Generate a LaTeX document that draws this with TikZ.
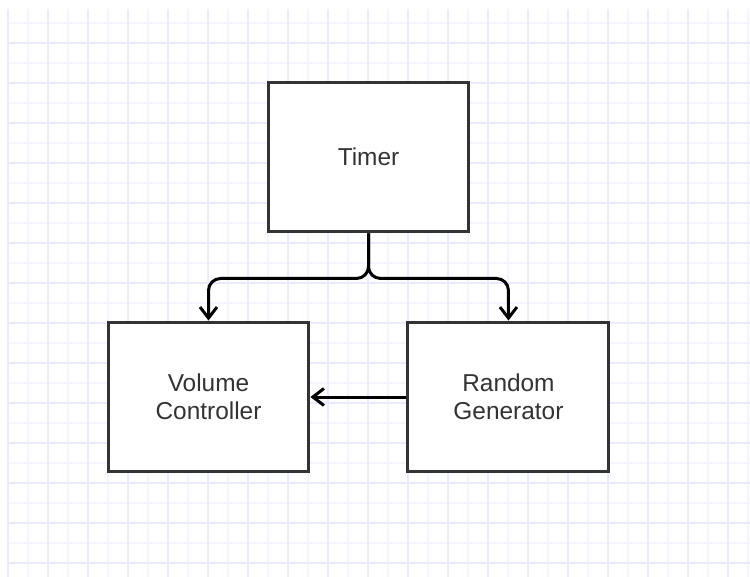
\documentclass[tikz,border=0pt]{standalone}
\usepackage{fontspec}
\setmainfont{Liberation Sans}
\usetikzlibrary{positioning,arrows.meta}
\definecolor{gridlight}{RGB}{245,245,255}
\definecolor{griddark}{RGB}{234,234,255}
\definecolor{boxline}{RGB}{51,51,51}
\tikzset{
  block/.style={draw=boxline, fill=white, line width=0.06cm,
    minimum width=4.02cm, minimum height=3cm, inner sep=0pt,
    align=center, text=black!80,
    font=\fontsize{13.9}{15.9}\selectfont},
  link/.style={draw=black, line width=0.06cm, rounded corners=0.24cm,
    -{Straight Barb[length=0.22cm,width=0.34cm]}},
  gridminor/.style={draw=gridlight, line width=0.03cm},
  gridmajor/.style={draw=griddark, line width=0.03cm}
}

\begin{document}
\begin{tikzpicture}[x=0.02cm,y=-0.02cm, node distance=1.8cm and 1.92cm]
    \useasboundingbox (0,0) rectangle (750,577);
    \fill[white] (0,0) rectangle (750,577);

    % grid
    \foreach \x in {28,68,...,748} \draw[gridminor] (\x,9) -- (\x,577);
    \foreach \y in {23,63,...,563} \draw[gridminor] (8,\y) -- (750,\y);
    \foreach \x in {8,48,...,728} \draw[gridmajor] (\x,9) -- (\x,577);
    \foreach \y in {43,83,...,563} \draw[gridmajor] (8,\y) -- (750,\y);

    \node[block] (vol) at (208.5,397) {Volume\\Controller};
    \node[block, right=of vol] (rand) {Random\\Generator};
    \node[block] (timer) at (368.5,157) {Timer};

    \coordinate[below=0.9cm of timer] (split);

    \draw[link] (timer.south) -- (split) -| (vol.north);
    \draw[link] (timer.south) -- (split) -| (rand.north);
    \draw[link] (rand) -- (vol);
\end{tikzpicture}
\end{document}
